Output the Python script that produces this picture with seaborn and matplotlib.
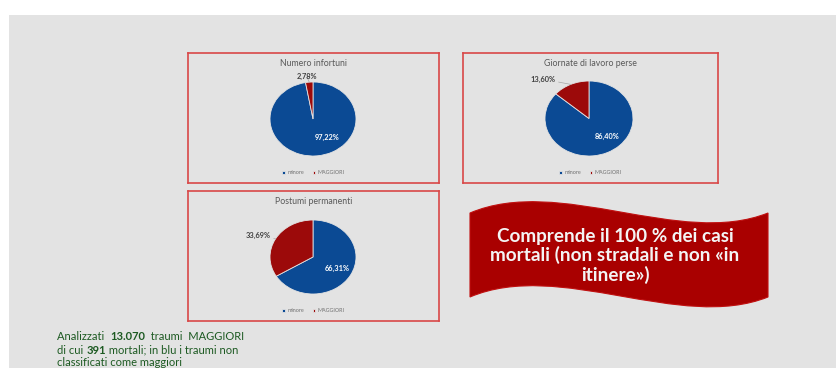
import matplotlib
matplotlib.use("Agg")
import matplotlib.pyplot as plt
import seaborn as sns
import numpy as np
from matplotlib.patches import PathPatch
from matplotlib.path import Path

# ---------------- data ----------------
titles = ["Numero infortuni", "Giornate di lavoro perse", "Postumi permanenti"]
categories = ["minore", "MAGGIORI"]
minore_pct = [97.22, 86.40, 66.31]
maggiori_pct = [2.78, 13.60, 33.69]
banner_text = "Comprende il 100 % dei casi\nmortali (non stradali e non «in\nitinere»)"
note_lines = [
    [("Analizzati  ", "normal"), ("13.070", "bold"), ("  traumi  MAGGIORI", "normal")],
    [("di cui ", "normal"), ("391", "bold"), (" mortali; in blu i traumi non", "normal")],
    [("classificati come maggiori", "normal")],
]

# ---------------- style ----------------
sns.set_theme(style="white")
plt.rcParams["font.family"] = ["Lato", "DejaVu Sans"]
BG = "#e3e3e3"
BLUE = "#0b4a94"
RED = "#9c0a0a"
palette = sns.color_palette([BLUE, RED])

W, H = 836, 368
fig = plt.figure(figsize=(W / 100, H / 100), dpi=100)
fig.patch.set_facecolor("white")


def fr(x, y, w, h):
    return [x / W, 1 - (y + h) / H, w / W, h / H]


# grey slide background
bgax = fig.add_axes(fr(9, 15, W - 9, H - 15), zorder=-5)
bgax.set_facecolor(BG)
bgax.set_xticks([])
bgax.set_yticks([])
for s in bgax.spines.values():
    s.set_visible(False)

panels = [(188, 53, 251, 130), (463, 53, 255, 130), (188, 191, 251, 130)]
pies = [(313, 119, 43, 37), (589, 118.5, 44, 37.5), (313, 257, 43, 37)]
inner_pos = [(0.33, -0.49), (0.41, -0.47), (0.56, -0.30)]
outer_pos = [(-0.14, 1.14), (-1.05, 1.05), (-1.28, 0.57)]

for i in range(3):
    px, py, pw, ph = panels[i]
    pax = fig.add_axes(fr(px, py, pw, ph))
    pax.set_facecolor(BG)
    pax.set_xticks([])
    pax.set_yticks([])
    for s in pax.spines.values():
        s.set_color("#d94848")
        s.set_linewidth(1.2)
    pax.text(0.5, 1 - 10.5 / ph, titles[i], transform=pax.transAxes,
             ha="center", va="center", fontsize=6.3, color="#595959")

    cx, cy, rx, ry = pies[i]
    ax = fig.add_axes(fr(cx - rx, cy - ry, 2 * rx, 2 * ry))
    wedges, _ = ax.pie([minore_pct[i], maggiori_pct[i]], colors=palette,
                       startangle=90, counterclock=False,
                       wedgeprops=dict(edgecolor=BG, linewidth=0.6))
    ax.set_aspect("auto")
    ax.set_xlim(-1, 1)
    ax.set_ylim(-1, 1)
    ax.axis("off")

    ax.text(*inner_pos[i], f"{minore_pct[i]:.2f}%".replace(".", ","),
            ha="center", va="center", fontsize=5.3, fontweight="bold",
            color="white")
    w = wedges[1]
    mid = np.deg2rad((w.theta1 + w.theta2) / 2)
    ax.annotate(f"{maggiori_pct[i]:.2f}%".replace(".", ","),
                xy=(np.cos(mid), np.sin(mid)), xytext=outer_pos[i],
                ha="center", va="center", fontsize=5.3, fontweight="bold",
                color="#404040",
                arrowprops=dict(arrowstyle="-", color="#a6a6a6", lw=0.5,
                                shrinkA=0, shrinkB=0))

    leg = pax.legend(wedges, categories, loc="center",
                     bbox_to_anchor=(0.5, 10 / ph), ncol=2, frameon=False,
                     fontsize=3.9, handlelength=0.5, handleheight=0.5,
                     handletextpad=0.4, columnspacing=1.6)
    for t in leg.get_texts():
        t.set_color("#707070")

# banner
over = fig.add_axes([0, 0, 1, 1], zorder=5)
over.set_xlim(0, W)
over.set_ylim(H, 0)
over.axis("off")
over.patch.set_alpha(0)

verts = [(470, 213), (560, 175), (680, 248), (768, 213),
         (768, 297),
         (680, 332), (560, 259), (470, 297),
         (470, 213)]
codes = [Path.MOVETO, Path.CURVE4, Path.CURVE4, Path.CURVE4,
         Path.LINETO,
         Path.CURVE4, Path.CURVE4, Path.CURVE4,
         Path.CLOSEPOLY]
over.add_patch(PathPatch(Path(verts, codes), facecolor="#a90000",
                         edgecolor="#c01010", lw=0.8))
over.text(615, 256, banner_text, ha="center", va="center", fontsize=13.6,
          fontweight="bold", color="#f4f4f4", linespacing=1.12)

# note text (green, mixed bold)
GREEN = "#1d5a22"
ys = [337, 350, 363]
for line, y in zip(note_lines, ys):
    prev = None
    for txt, wt in line:
        if prev is None:
            prev = over.text(57, y, txt, ha="left", va="center", fontsize=8.0,
                             fontweight=wt, color=GREEN)
        else:
            prev = over.annotate(txt, xy=(1, 0.5), xycoords=prev,
                                 ha="left", va="center", fontsize=8.0,
                                 fontweight=wt, color=GREEN)

fig.savefig("out.png", dpi=100, facecolor=fig.get_facecolor())
